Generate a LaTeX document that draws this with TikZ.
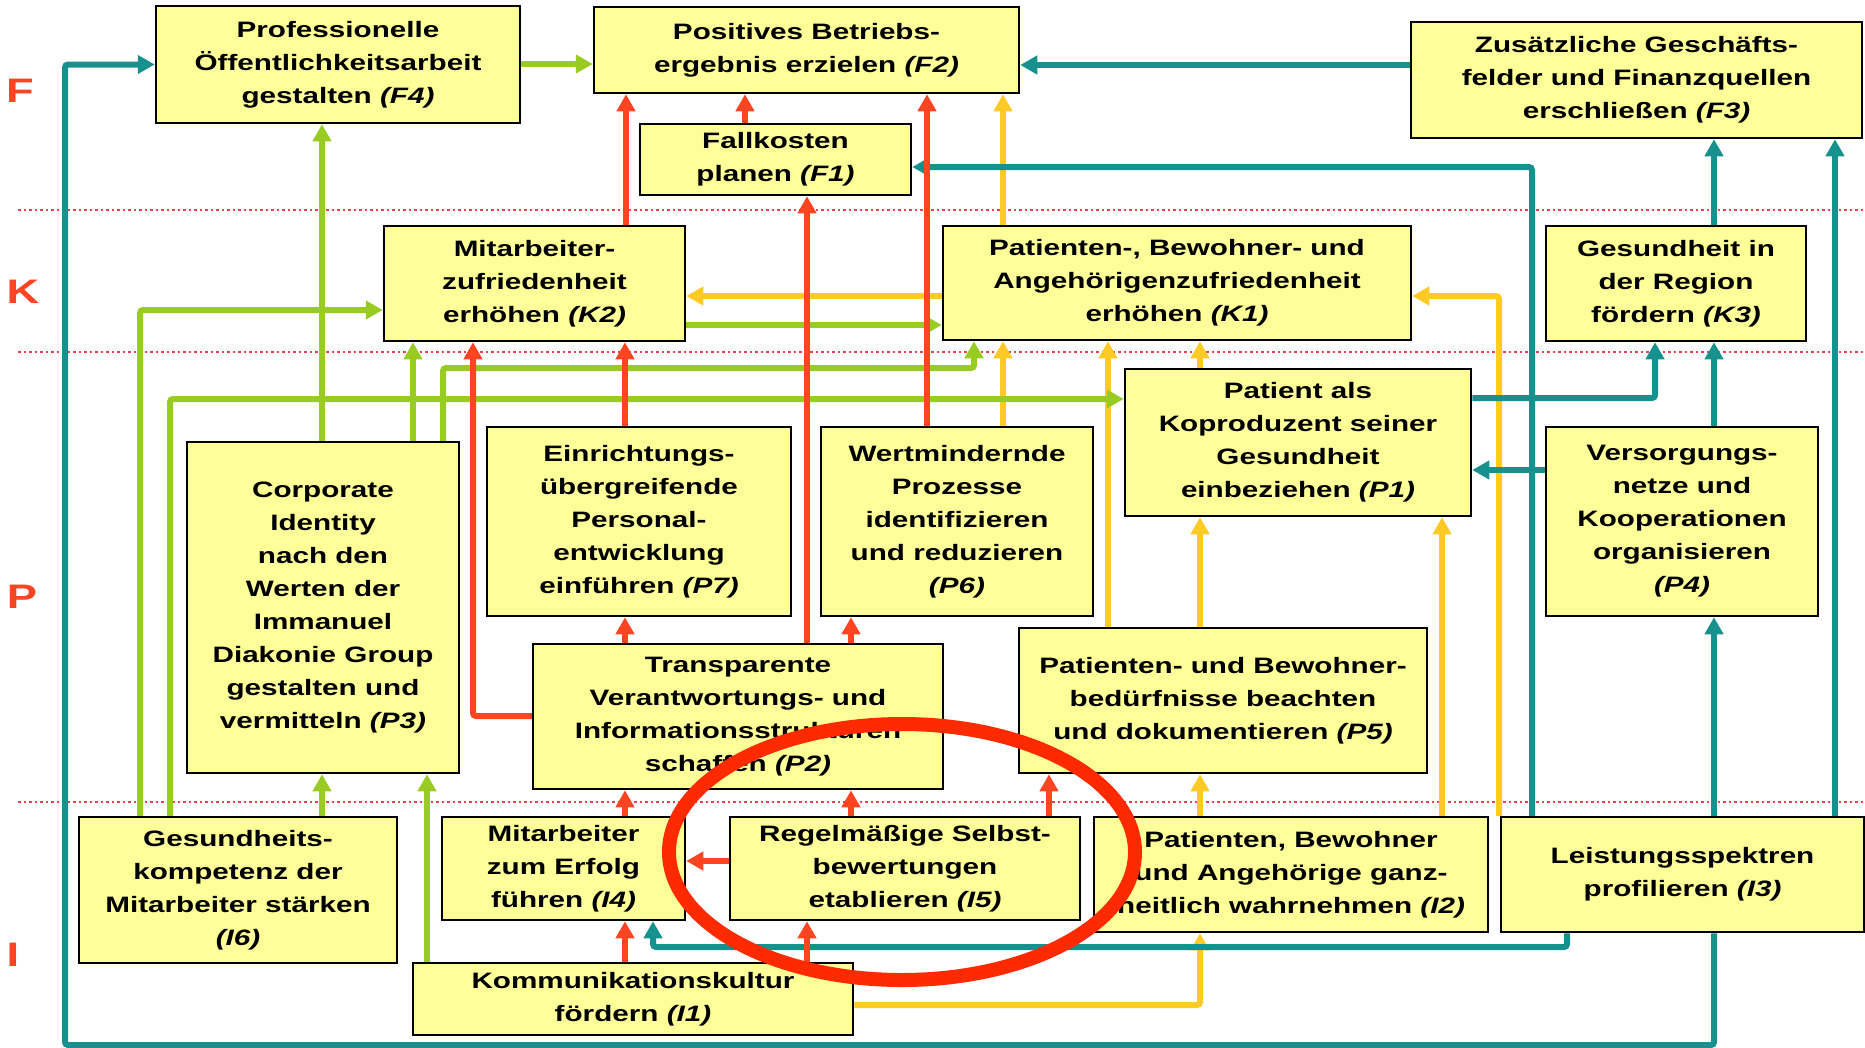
\documentclass[tikz,border=0pt]{standalone}
\usepackage{fontspec}
\setmainfont{Liberation Sans}[FakeStretch=1.33]
\usetikzlibrary{arrows.meta}

\definecolor{boxfill}{HTML}{FFFF99}
\definecolor{cred}{HTML}{FF4422}
\definecolor{cgreen}{HTML}{99CC22}
\definecolor{cteal}{HTML}{17918D}
\definecolor{cyel}{HTML}{FFC926}
\definecolor{ring}{HTML}{FF2A00}
\definecolor{sepline}{HTML}{F04050}

\begin{document}
\begin{tikzpicture}[x=1pt, y=-1pt,
  box/.style={draw=black, line width=2.5pt, fill=boxfill, inner sep=0pt,
    align=center, font=\fontsize{22.3}{33}\selectfont\bfseries},
  link/.style={line width=6pt, rounded corners=3pt,
    -{Triangle[length=17pt,width=18pt]}},
  tl/.style={link, draw=cteal},
  yl/.style={link, draw=cyel},
  gr/.style={link, draw=cgreen},
  rd/.style={link, draw=cred},
  sep/.style={draw=sepline, line width=2pt, dash pattern=on 2.5pt off 3pt},
  level/.style={text=cred, font=\fontsize{34}{34}\selectfont\bfseries}]

\fill[white] (0,0) rectangle (1865,1047);
\useasboundingbox (0,0) rectangle (1865,1047);

% perspective separators
\draw[sep] (18,210) -- (1865,210);
\draw[sep] (18,352) -- (1865,352);
\draw[sep] (18,802) -- (1865,802);

% perspective letters
\node[level] (lF) at (20,91) {F};
\node[level] (lK) at (23,292) {K};
\node[level] (lP) at (22,597) {P};
\node[level] (lI) at (13,955) {I};

% financial perspective
\node[box, minimum width=364pt, minimum height=117pt] (F4) at (338,64.5)
  {Professionelle\\Öffentlichkeitsarbeit\\gestalten \textit{(F4)}};
\node[box, minimum width=425pt, minimum height=86pt] (F2) at (806.5,50)
  {Positives Betriebs-\\ergebnis erzielen \textit{(F2)}};
\node[box, minimum width=271pt, minimum height=71pt] (F1) at (775.5,159.5)
  {Fallkosten\\planen \textit{(F1)}};
\node[box, minimum width=451pt, minimum height=116pt] (F3) at (1636.5,80)
  {Zusätzliche Geschäfts-\\felder und Finanzquellen\\erschließen \textit{(F3)}};

% customer perspective
\node[box, minimum width=301pt, minimum height=115pt] (K2) at (534.5,283.5)
  {Mitarbeiter-\\zufriedenheit\\erhöhen \textit{(K2)}};
\node[box, minimum width=468pt, minimum height=114pt] (K1) at (1177,283)
  {Patienten-, Bewohner- und\\Angehörigenzufriedenheit\\erhöhen \textit{(K1)}};
\node[box, minimum width=260pt, minimum height=115pt] (K3) at (1676,283.5)
  {Gesundheit in\\der Region\\fördern \textit{(K3)}};

% process perspective
\node[box, minimum width=272pt, minimum height=331pt] (P3) at (323,607.5)
  {Corporate\\Identity\\nach den\\Werten der\\Immanuel\\Diakonie Group\\gestalten und\\vermitteln \textit{(P3)}};
\node[box, minimum width=304pt, minimum height=189pt] (P7) at (639,521.5)
  {Einrichtungs-\\übergreifende\\Personal-\\entwicklung\\einführen \textit{(P7)}};
\node[box, minimum width=272pt, minimum height=189pt] (P6) at (957,521.5)
  {Wertmindernde\\Prozesse\\identifizieren\\und reduzieren\\\textit{(P6)}};
\node[box, minimum width=346pt, minimum height=147pt] (P1) at (1298,442.5)
  {Patient als\\Koproduzent seiner\\Gesundheit\\einbeziehen \textit{(P1)}};
\node[box, minimum width=272pt, minimum height=189pt] (P4) at (1682,521.5)
  {Versorgungs-\\netze und\\Kooperationen\\organisieren\\\textit{(P4)}};
\node[box, minimum width=410pt, minimum height=145pt] (P2) at (738,716.5)
  {Transparente\\Verantwortungs- und\\Informationsstrukturen\\schaffen \textit{(P2)}};
\node[box, minimum width=408pt, minimum height=145pt] (P5) at (1223,700.5)
  {Patienten- und Bewohner-\\bedürfnisse beachten\\und dokumentieren \textit{(P5)}};

% learning perspective
\node[box, minimum width=318pt, minimum height=146pt] (I6) at (238,890)
  {Gesundheits-\\kompetenz der\\Mitarbeiter stärken\\\textit{(I6)}};
\node[box, minimum width=243pt, minimum height=103pt] (I4) at (563.5,868.5)
  {Mitarbeiter\\zum Erfolg\\führen \textit{(I4)}};
\node[box, minimum width=350pt, minimum height=103pt] (I5) at (905,868.5)
  {Regelmäßige Selbst-\\bewertungen\\etablieren \textit{(I5)}};
\node[box, minimum width=394pt, minimum height=115pt] (I2) at (1291,874.5)
  {Patienten, Bewohner\\und Angehörige ganz-\\heitlich wahrnehmen \textit{(I2)}};
\node[box, minimum width=363pt, minimum height=115pt] (I3) at (1682.5,874.5)
  {Leistungsspektren\\profilieren \textit{(I3)}};
\node[box, minimum width=440pt, minimum height=72pt] (I1) at (633,999)
  {Kommunikationskultur\\fördern \textit{(I1)}};

% yellow links
\draw[yl] (1003,0 |- K1.north) -- (1003,0 |- F2.south);
\draw[yl] (K1.west |- 0,296) -- (K2.east |- 0,296);
\draw[yl] (1003,0 |- P6.north) -- (1003,0 |- K1.south);
\draw[yl] (1108,0 |- P5.north) -- (1108,0 |- K1.south);
\draw[yl] (1200,0 |- P1.north) -- (1200,0 |- K1.south);
\draw[yl] (1200,0 |- P5.north) -- (1200,0 |- P1.south);
\draw[yl] (1442,0 |- I2.north) -- (1442,0 |- P1.south);
\draw[yl] (1499,0 |- I2.north) |- (K1.east |- 0,296);
\draw[yl] (1200,0 |- I2.north) -- (1200,0 |- P5.south);
\draw[yl] (I1.east |- 0,1005) -| (1200,0 |- I2.south);

% teal links
\draw[tl] (F3.west |- 0,65) -- (F2.east |- 0,65);
\draw[tl] (1532,0 |- I3.north) |- (F1.east |- 0,167);
\draw[tl] (1714,0 |- K3.north) -- (1714,0 |- F3.south);
\draw[tl] (1835,0 |- I3.north) -- (1835,0 |- F3.south);
\draw[tl] (P1.east |- 0,398) -| (1655,0 |- K3.south);
\draw[tl] (1714,0 |- P4.north) -- (1714,0 |- K3.south);
\draw[tl] (P4.west |- 0,470) -- (P1.east |- 0,470);
\draw[tl] (1714,0 |- I3.north) -- (1714,0 |- P4.south);
\draw[tl] (1567,0 |- I3.south) |- (653,947) -- (653,0 |- I4.south);
\draw[tl] (1714,0 |- I3.south) |- (65,1045) |- (F4.west);

% green links
\draw[gr] (F4.east |- 0,64) -- (F2.west |- 0,64);
\draw[gr] (322,0 |- P3.north) -- (322,0 |- F4.south);
\draw[gr] (140,0 |- I6.north) |- (K2.west |- 0,310);
\draw[gr] (170,0 |- I6.north) |- (P1.west |- 0,399);
\draw[gr] (413,0 |- P3.north) -- (413,0 |- K2.south);
\draw[gr] (443,0 |- P3.north) |- (974,368) -- (974,0 |- K1.south);
\draw[gr] (K2.east |- 0,325) -- (K1.west |- 0,325);
\draw[gr] (322,0 |- I6.north) -- (322,0 |- P3.south);
\draw[gr] (427,0 |- I1.north) -- (427,0 |- P3.south);

% red links
\draw[rd] (626,0 |- K2.north) -- (626,0 |- F2.south);
\draw[rd] (745,0 |- F1.north) -- (745,0 |- F2.south);
\draw[rd] (927,0 |- P6.north) -- (927,0 |- F2.south);
\draw[rd] (807,0 |- P2.north) -- (807,0 |- F1.south);
\draw[rd] (625,0 |- P7.north) -- (625,0 |- K2.south);
\draw[rd] (P2.west |- 0,716) -| (473,0 |- K2.south);
\draw[rd] (625,0 |- P2.north) -- (625,0 |- P7.south);
\draw[rd] (851,0 |- P2.north) -- (851,0 |- P6.south);
\draw[rd] (625,0 |- I4.north) -- (625,0 |- P2.south);
\draw[rd] (851,0 |- I5.north) -- (851,0 |- P2.south);
\draw[rd] (1049,0 |- I5.north) -- (1049,0 |- P5.south);
\draw[rd] (I5.west |- 0,861) -- (I4.east |- 0,861);
\draw[rd] (625,0 |- I1.north) -- (625,0 |- I4.south);
\draw[rd] (807,0 |- I1.north) -- (807,0 |- I5.south);

% highlight ring
\draw[draw=ring, line width=14pt] (902,852) ellipse [x radius=233, y radius=128];
\end{tikzpicture}
\end{document}
